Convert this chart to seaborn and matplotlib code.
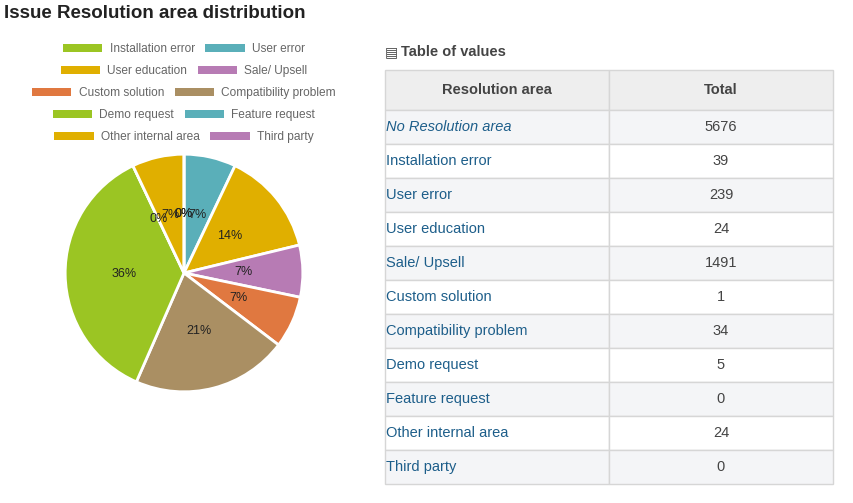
import matplotlib
matplotlib.use("Agg")
import matplotlib.pyplot as plt
from matplotlib.patches import Patch
import seaborn as sns

sns.set_style("white")
plt.rcParams['font.family'] = ['Liberation Sans', 'DejaVu Sans']

# pie slices (percent of the 14 resolved issues)
areas = ["Installation error", "User error", "User education", "Sale/ Upsell",
         "Custom solution", "Compatibility problem", "Demo request",
         "Feature request", "Other internal area", "Third party"]
pie_pct = [0, 7, 14, 7, 7, 21, 36, 0, 7, 0]
pie_labels = ["0%", "7%", "14%", "7%", "7%", "21%", "36%", "0%", "7%", "0%"]

# table of values
table_areas = ["No Resolution area"] + areas
table_totals = [5676, 39, 239, 24, 1491, 1, 34, 5, 0, 24, 0]

colors = sns.color_palette(["#9BC523", "#5AAFB9", "#E0AF00", "#B77BB4", "#E07840", "#AA8F63"])
slice_colors = [colors[i % 6] for i in range(len(areas))]

fig = plt.figure(figsize=(8.54, 5.03), dpi=100)
W, H = 854, 503

fig.text(4 / W, 1 - 13 / H, "Issue Resolution area distribution", fontsize=13.5,
         fontweight="bold", color="#222222", va="center", ha="left")

# pie
cx, cy, r = 184, 273, 120
ax = fig.add_axes([(cx - r) / W, (H - cy - r) / H, 2 * r / W, 2 * r / H])
wedges, texts = ax.pie(pie_pct, colors=slice_colors, startangle=90, counterclock=False,
                       labels=pie_labels, labeldistance=0.5,
                       wedgeprops=dict(edgecolor="white", linewidth=2),
                       textprops=dict(fontsize=9, color="#222222", ha="center", va="center"))
ax.set_xlim(-1.01, 1.01)
ax.set_ylim(-1.01, 1.01)
ax.set_aspect("equal")
ax.axis("off")

# legend, one centered row of two entries at a time
row_y = [49, 71, 93, 115, 137]
for k, y in enumerate(row_y):
    idx = [2 * k, 2 * k + 1]
    handles = [Patch(facecolor=slice_colors[i], edgecolor="none") for i in idx]
    fig.legend(handles, [areas[i] for i in idx], loc="center",
               bbox_to_anchor=(184 / W, 1 - y / H), ncol=2, frameon=False,
               fontsize=8.6, labelcolor="#666666", handlelength=3.3, handleheight=0.7,
               handletextpad=0.6, columnspacing=0.9, borderpad=0, borderaxespad=0)

# table
fig.text(385 / W, 1 - 52 / H, "\u25a4", fontsize=10, color="#444444",
         va="center", ha="left", family="DejaVu Sans")
fig.text(401 / W, 1 - 52 / H, "Table of values", fontsize=10.5, fontweight="bold",
         color="#444444", va="center", ha="left")

tx0, tx1, ty0, ty1 = 385, 833, 70, 484
tax = fig.add_axes([tx0 / W, (H - ty1) / H, (tx1 - tx0) / W, (ty1 - ty0) / H])
tax.axis("off")
cell_text = [[a, str(t)] for a, t in zip(table_areas, table_totals)]
tbl = tax.table(cellText=cell_text, colLabels=["Resolution area", "Total"],
                bbox=[0, 0, 1, 1], cellLoc="center")
tbl.auto_set_font_size(False)
total_h = ty1 - ty0
for (row, col), cell in tbl.get_celld().items():
    cell.set_edgecolor("#D6D6D6")
    cell.set_linewidth(1)
    cell.set_width(0.5)
    cell.set_height((40 if row == 0 else 34) / total_h)
    txt = cell.get_text()
    txt.set_fontsize(10.5)
    if row == 0:
        cell.set_facecolor("#EEEEEE")
        txt.set_fontweight("bold")
        txt.set_color("#444444")
    else:
        cell.set_facecolor("#F4F5F7" if row % 2 == 1 else "#FFFFFF")
        if col == 0:
            cell.set_text_props(ha="left", color="#1D5E8A")
            cell.PAD = 0.006
            if row == 1:
                txt.set_fontstyle("italic")
        else:
            txt.set_color("#444444")

fig.savefig("out.png", dpi=100)
